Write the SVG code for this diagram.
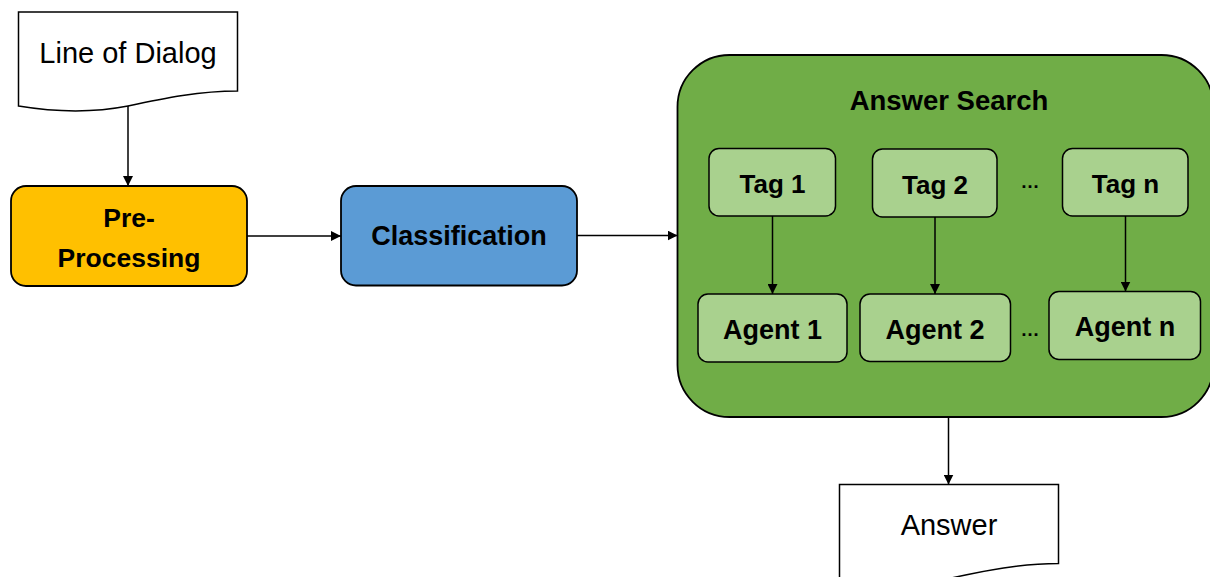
<svg xmlns="http://www.w3.org/2000/svg" width="1210" height="577" viewBox="0 0 1210 577">
<style>
.t{font-family:"Liberation Sans",Arial,sans-serif;fill:#000;text-anchor:middle}
.b{font-weight:bold}
.doc{fill:#fff;stroke:#000;stroke-width:1.5}
.box{stroke:#000;stroke-width:1.8}
.sub{fill:#A9D18E;stroke:#000;stroke-width:1.5}
.c{stroke:#000;stroke-width:1.5;fill:none;marker-end:url(#ah)}
</style>
<defs>
<marker id="ah" viewBox="0 0 10 10" refX="10" refY="5" markerWidth="10" markerHeight="10" markerUnits="userSpaceOnUse" orient="auto">
<path d="M0,0 L10,5 L0,10 Z" fill="#000"/>
</marker>
</defs>
<rect width="1210" height="577" fill="#fff"/>
<g id="line-of-dialog">
<path class="doc" d="M18.5,12 H237.5 V91 C200,91 165,98 128,106 C92,113 55,112 18.5,106 Z"/>
<text class="t" x="128" y="63" font-size="29">Line of Dialog</text>
</g>
<g id="pre-processing">
<rect class="box" x="11" y="186" width="236" height="100" rx="15" fill="#FFC000"/>
<text class="t b" x="129" y="227" font-size="26.5">Pre-</text>
<text class="t b" x="129" y="267" font-size="26.5">Processing</text>
</g>
<g id="classification">
<rect class="box" x="341" y="186" width="236" height="99.5" rx="15" fill="#5B9BD5"/>
<text class="t b" x="459" y="245" font-size="27">Classification</text>
</g>
<g id="answer-search">
<rect class="box" x="677.5" y="55" width="536" height="362" rx="52" fill="#70AD47"/>
<text class="t b" x="949" y="110" font-size="27.5">Answer Search</text>
</g>
<g id="tag-1">
<rect class="sub" x="709" y="148.5" width="126.5" height="67.5" rx="10"/>
<text class="t b" x="772.5" y="193" font-size="26">Tag 1</text>
</g>
<g id="tag-2">
<rect class="sub" x="872.5" y="149" width="124.5" height="68" rx="10"/>
<text class="t b" x="935" y="194" font-size="26">Tag 2</text>
</g>
<g id="tag-n">
<rect class="sub" x="1062.5" y="148.5" width="125.5" height="67.5" rx="10"/>
<text class="t b" x="1125.5" y="193" font-size="26">Tag n</text>
</g>
<g id="agent-1">
<rect class="sub" x="698" y="294" width="149" height="68" rx="10"/>
<text class="t b" x="772.5" y="339" font-size="27">Agent 1</text>
</g>
<g id="agent-2">
<rect class="sub" x="860" y="294" width="150.5" height="67.5" rx="10"/>
<text class="t b" x="935" y="339" font-size="27">Agent 2</text>
</g>
<g id="agent-n">
<rect class="sub" x="1049" y="291.5" width="151.5" height="68" rx="10"/>
<text class="t b" x="1125" y="336" font-size="27">Agent n</text>
</g>
<g id="ellipses">
<text class="t b" x="1030" y="188" font-size="19">…</text>
<text class="t b" x="1030" y="336" font-size="19">…</text>
</g>
<g id="answer">
<path class="doc" d="M839.5,484.5 H1058.5 V563.5 C1021,563.5 986,570.5 949,578.5 C913,585.5 876,584.5 839.5,578.5 Z"/>
<text class="t" x="949" y="535" font-size="29">Answer</text>
</g>
<g id="connectors">
<path class="c" d="M128,106 V186"/>
<path class="c" d="M247,236 H341"/>
<path class="c" d="M577,235.5 H677.5"/>
<path class="c" d="M772.5,216 V294"/>
<path class="c" d="M935,217 V294"/>
<path class="c" d="M1125.5,216 V291.5"/>
<path class="c" d="M948.5,417 V484.5"/>
</g>
</svg>
